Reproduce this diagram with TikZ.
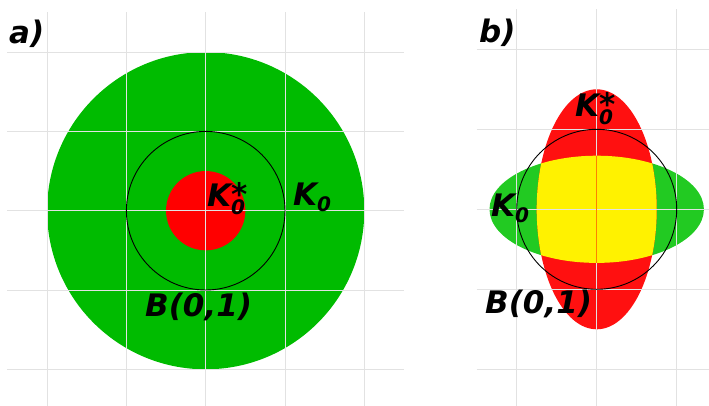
\documentclass[tikz,border=0pt]{standalone}
\usepackage{fontspec}
\setmainfont{DejaVu Sans}
\definecolor{greenA}{RGB}{0,187,0}
\definecolor{greenB}{RGB}{34,202,34}
\definecolor{redB}{RGB}{255,16,16}
\definecolor{gridgray}{RGB}{226,226,226}
\newcommand\smallfig[1]{{\fontsize{20}{20}\selectfont #1}}
\newcommand\kstar{K\rlap{\raisebox{1pt}{*}}\raisebox{-7.5pt}{\smallfig{0}}}
\newcommand\kzero{K\raisebox{-6pt}{\smallfig{0}}}
\begin{document}
\begin{tikzpicture}[x=1pt, y=1pt,
  lbl/.style={anchor=base west, inner sep=0pt, font=\fontsize{31}{31}\selectfont\bfseries\itshape},
  gridline/.style={draw=gridgray, line width=0.6pt},
  unitcircle/.style={draw=black, line width=0.9pt}]
\useasboundingbox (0,0) rectangle (709,405);
% panel a
\begin{scope}[shift={(205.7pt,194.3pt)}, x=79.3pt, y=79.3pt]
\fill[greenA] (0,0) circle (2);
\fill[red] (0,0) circle (0.5);
\draw[gridline, step={(1,1)}] (-2.5,-2.5) grid (2.5,2.5);
\draw[unitcircle] (0,0) circle (1);
\end{scope}
% panel b
\begin{scope}[shift={(596.7pt,195.7pt)}, x=80pt, y=80pt]
\fill[greenB] (0,0) ellipse [x radius=1.34, y radius=0.67];
\fill[redB] (0,0) ellipse [x radius=0.75, y radius=1.5];
\begin{scope}
\clip (0,0) ellipse [x radius=1.34, y radius=0.67];
\fill[yellow] (0,0) ellipse [x radius=0.75, y radius=1.5];
\end{scope}
\draw[gridline, step={(1,1)}] (-1.5,-2.5) grid (1.4,2.5);
\begin{scope}
\clip (0,0) ellipse [x radius=1.34, y radius=0.67];
\draw[orange, line width=0.6pt] (0,-1) -- (0,1);
\end{scope}
\draw[unitcircle] (0,0) circle (1);
\end{scope}
% labels
\node[lbl] (tagA) at (9,361.7) {a)};
\node[lbl] (kstarA) at (207,198.3) {\kstar};
\node[lbl] (kzeroA) at (293,200) {\kzero};
\node[lbl] (ballA) at (145,88.3) {B(0,1)};
\node[lbl] (tagB) at (479,362) {b)};
\node[lbl] (kstarB) at (575,288.3) {\kstar};
\node[lbl] (kzeroB) at (491,189) {\kzero};
\node[lbl] (ballB) at (485,91.7) {B(0,1)};
\end{tikzpicture}
\end{document}
